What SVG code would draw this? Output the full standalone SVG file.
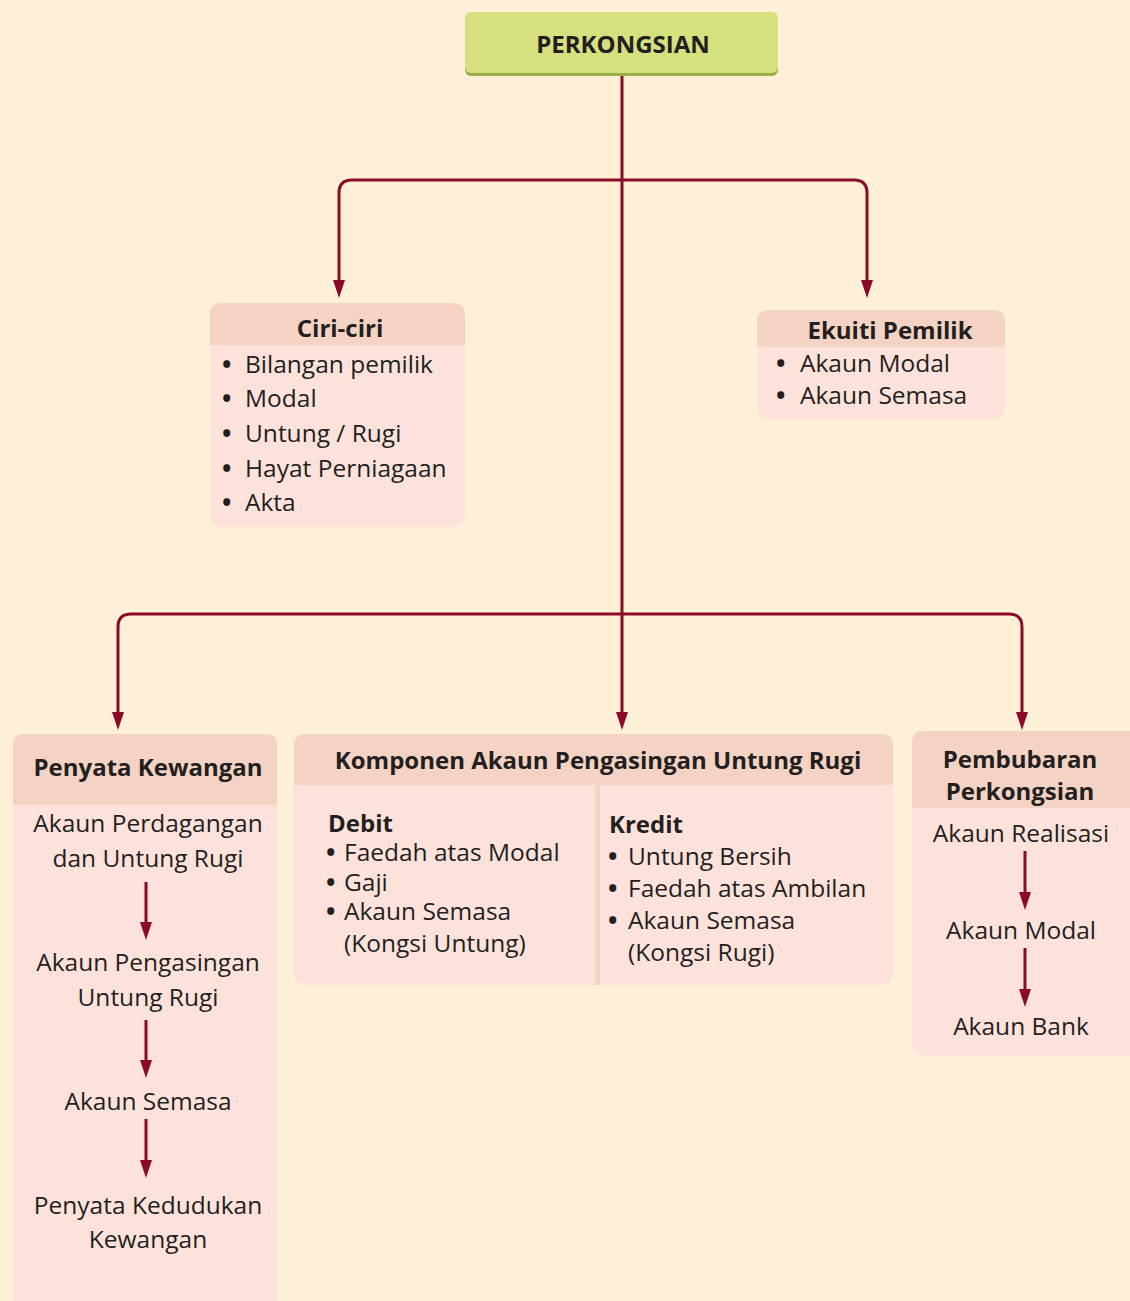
<svg xmlns="http://www.w3.org/2000/svg" width="1130" height="1301" viewBox="0 0 1130 1301">
<defs>
<style>
.t{font-family:"Open Sans","Noto Sans",sans-serif;font-size:24.5px;fill:#231F20}
.b{font-family:"Open Sans","Noto Sans",sans-serif;font-size:24px;font-weight:bold;fill:#231F20}
.c{text-anchor:middle}
.u{font-size:25px;font-weight:bold}
.hd{fill:#F5D3C4}
.bd{fill:#FDE2DC}
.ln{fill:none;stroke:#8B0A2A;stroke-width:3}
.ar{fill:#8B0A2A}
</style>
</defs>
<rect width="1130" height="1301" fill="#FEF0D6"/>
<g id="connectors">
<path class="ln" d="M622,75 V712"/>
<path class="ar" d="M616,712 L628,712 L622,730 Z"/>
<path class="ln" d="M339,280 V193 Q339,180 352,180 H854 Q867,180 867,193 V280"/>
<path class="ar" d="M333,280 L345,280 L339,298 Z"/>
<path class="ar" d="M861,280 L873,280 L867,298 Z"/>
<path class="ln" d="M118,712 V627 Q118,614 131,614 H1009 Q1022,614 1022,627 V712"/>
<path class="ar" d="M112,712 L124,712 L118,730 Z"/>
<path class="ar" d="M1016,712 L1028,712 L1022,730 Z"/>
</g>
<g id="perkongsian">
<rect x="465" y="14" width="313" height="62" rx="6" fill="#9AAF4A"/>
<rect x="465" y="12" width="313" height="61" rx="6" fill="#D6E07E"/>
<text class="b c" x="623" y="53">PERKONGSIAN</text>
</g>
<g id="ciri">
<rect class="bd" x="210" y="303" width="255" height="224" rx="12"/>
<path class="hd" d="M210,345 V315 Q210,303 222,303 H453 Q465,303 465,315 V345 Z"/>
<text class="b c" x="340" y="337">Ciri-ciri</text>
<text class="t" y="373"><tspan class="u" x="222">•</tspan><tspan x="245">Bilangan pemilik</tspan></text>
<text class="t" y="407"><tspan class="u" x="222">•</tspan><tspan x="245">Modal</tspan></text>
<text class="t" y="442"><tspan class="u" x="222">•</tspan><tspan x="245">Untung / Rugi</tspan></text>
<text class="t" y="477"><tspan class="u" x="222">•</tspan><tspan x="245">Hayat Perniagaan</tspan></text>
<text class="t" y="511"><tspan class="u" x="222">•</tspan><tspan x="245">Akta</tspan></text>
</g>
<g id="ekuiti">
<rect class="bd" x="757" y="310" width="248" height="109" rx="12"/>
<path class="hd" d="M757,347 V322 Q757,310 769,310 H993 Q1005,310 1005,322 V347 Z"/>
<text class="b c" x="890" y="339">Ekuiti Pemilik</text>
<text class="t" y="372"><tspan class="u" x="776">•</tspan><tspan x="800">Akaun Modal</tspan></text>
<text class="t" y="404"><tspan class="u" x="776">•</tspan><tspan x="800">Akaun Semasa</tspan></text>
</g>
<g id="penyata">
<path class="bd" d="M13,1301 V746 Q13,734 25,734 H265 Q277,734 277,746 V1301 Z"/>
<path class="hd" d="M13,805 V746 Q13,734 25,734 H265 Q277,734 277,746 V805 Z"/>
<text class="b c" x="148" y="776">Penyata Kewangan</text>
<text class="t c" x="148" y="832">Akaun Perdagangan</text>
<text class="t c" x="148" y="867">dan Untung Rugi</text>
<path class="ln" d="M146,882 V923"/>
<path class="ar" d="M140,922 L152,922 L146,940 Z"/>
<text class="t c" x="148" y="971">Akaun Pengasingan</text>
<text class="t c" x="148" y="1006">Untung Rugi</text>
<path class="ln" d="M146,1020 V1061"/>
<path class="ar" d="M140,1060 L152,1060 L146,1078 Z"/>
<text class="t c" x="148" y="1110">Akaun Semasa</text>
<path class="ln" d="M146,1119 V1161"/>
<path class="ar" d="M140,1160 L152,1160 L146,1178 Z"/>
<text class="t c" x="148" y="1214">Penyata Kedudukan</text>
<text class="t c" x="148" y="1248">Kewangan</text>
</g>
<g id="komponen">
<rect class="bd" x="294" y="734" width="599" height="251" rx="12"/>
<path class="hd" d="M294,785 V746 Q294,734 306,734 H881 Q893,734 893,746 V785 Z"/>
<rect class="hd" x="595" y="785" width="5" height="200"/>
<text class="b c" x="598" y="769">Komponen Akaun Pengasingan Untung Rugi</text>
<text class="b" x="328" y="832">Debit</text>
<text class="t" y="861"><tspan class="u" x="326">•</tspan><tspan x="344">Faedah atas Modal</tspan></text>
<text class="t" y="891"><tspan class="u" x="326">•</tspan><tspan x="344">Gaji</tspan></text>
<text class="t" y="920"><tspan class="u" x="326">•</tspan><tspan x="344">Akaun Semasa</tspan></text>
<text class="t" x="344" y="952">(Kongsi Untung)</text>
<text class="b" x="609" y="833">Kredit</text>
<text class="t" y="865"><tspan class="u" x="608">•</tspan><tspan x="628">Untung Bersih</tspan></text>
<text class="t" y="897"><tspan class="u" x="608">•</tspan><tspan x="628">Faedah atas Ambilan</tspan></text>
<text class="t" y="929"><tspan class="u" x="608">•</tspan><tspan x="628">Akaun Semasa</tspan></text>
<text class="t" x="628" y="961">(Kongsi Rugi)</text>
</g>
<g id="pembubaran">
<path class="bd" d="M912,1044 V743 Q912,731 924,731 H1130 V1056 H924 Q912,1056 912,1044 Z"/>
<path class="hd" d="M912,808 V743 Q912,731 924,731 H1130 V808 Z"/>
<text class="b c" x="1020" y="768">Pembubaran</text>
<text class="b c" x="1020" y="800">Perkongsian</text>
<text class="t c" x="1021" y="842">Akaun Realisasi</text>
<path class="ln" d="M1025,851 V893"/>
<path class="ar" d="M1019,892 L1031,892 L1025,910 Z"/>
<text class="t c" x="1021" y="939">Akaun Modal</text>
<path class="ln" d="M1025,948 V990"/>
<path class="ar" d="M1019,989 L1031,989 L1025,1007 Z"/>
<text class="t c" x="1021" y="1035">Akaun Bank</text>
</g>
</svg>
